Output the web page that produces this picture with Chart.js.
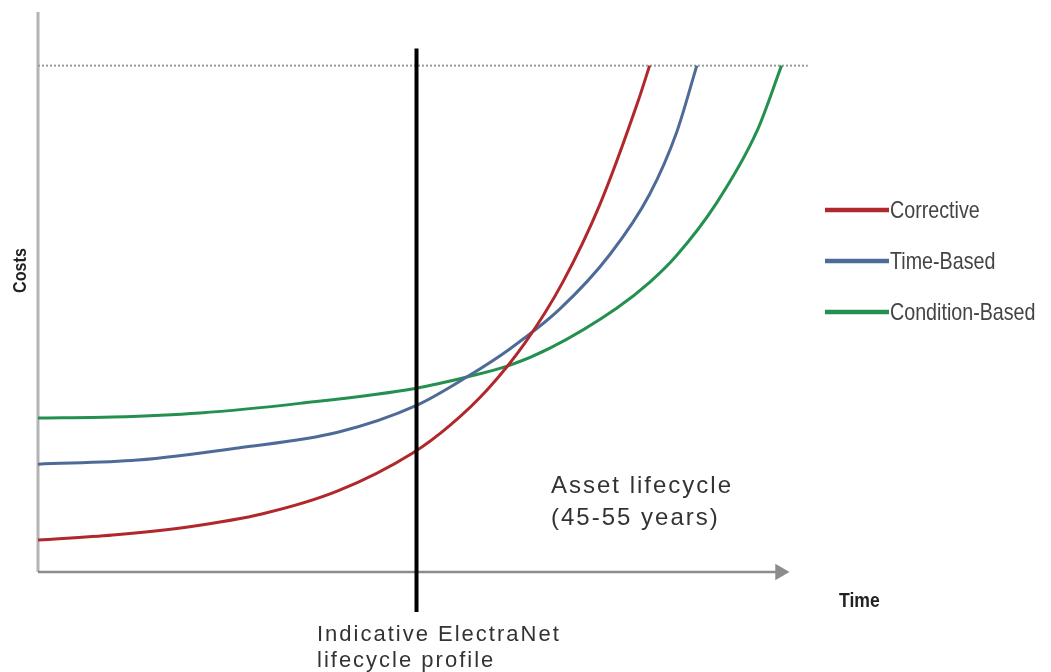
<!DOCTYPE html>
<html lang="en">
<head>
    <meta charset="UTF-8">
    <title>Maintenance Cost Profiles</title>
    <script src="https://cdn.jsdelivr.net/npm/chart.js"></script>
    <style>
        body { margin: 0; background: #fff; }
    </style>
</head>
<body>
    <canvas id="costChart" width="1051" height="672"></canvas>
    <script>
        // curve values (x: time, y: cost, arbitrary units)
        const seriesNames = ['Corrective', 'Time-Based', 'Condition-Based'];
        const seriesColors = ['#b0282c', '#4d6b96', '#24904f'];

        const correctiveX = [0, 10, 20, 30, 40, 50, 55, 60, 65, 70, 75, 80, 81.6];
        const correctiveY = [6.3, 7.3, 8.9, 11.5, 16.0, 23.5, 29.0, 36.1, 45.3, 57.2, 72.7, 92.7, 100];

        const timeBasedX = [0, 13.3, 26.7, 40, 50.5, 57.2, 62.9, 69.6, 76.3, 81.6, 85.2, 87.9];
        const timeBasedY = [21.3, 22.1, 24.5, 27.6, 32.9, 38.5, 44.0, 51.9, 62.7, 74.6, 86.8, 100];

        const conditionX = [0, 10, 21.6, 34.9, 50.5, 57.2, 62.9, 68.3, 77.2, 81.6, 85.2, 90.5, 95.9, 99.2];
        const conditionY = [30.4, 30.6, 31.4, 33.3, 36.3, 38.5, 40.8, 44.2, 52.1, 57.2, 62.5, 72.8, 87.0, 100];

        const electraNetTime = 50.5;   // indicative ElectraNet lifecycle marker
        const costCeiling = 100;       // dotted cap line

        const toPoints = (xs, ys) => xs.map((x, i) => ({ x: x, y: ys[i] }));

        function curve(label, xs, ys, color) {
            return {
                label: label,
                data: toPoints(xs, ys),
                borderColor: color,
                borderWidth: 3,
                pointRadius: 0,
                cubicInterpolationMode: 'monotone',
                fill: false,
                isSeries: true
            };
        }

        const datasets = [
            {
                label: 'marker',
                data: [{ x: electraNetTime, y: 103.4 }, { x: electraNetTime, y: -7.9 }],
                borderColor: '#000',
                borderWidth: 4,
                pointRadius: 0,
                clip: false
            },
            curve(seriesNames[0], correctiveX, correctiveY, seriesColors[0]),
            curve(seriesNames[1], timeBasedX, timeBasedY, seriesColors[1]),
            curve(seriesNames[2], conditionX, conditionY, seriesColors[2]),
            {
                label: 'ceiling',
                data: [{ x: 0, y: costCeiling }, { x: 102.7, y: costCeiling }],
                borderColor: '#9a9a9a',
                borderWidth: 2,
                borderDash: [2, 2],
                pointRadius: 0,
                clip: false
            },
            {
                label: 'x axis',
                data: [{ x: 0, y: 0 }, { x: 99, y: 0 }],
                borderColor: '#8c8c8c',
                borderWidth: 2.5,
                pointRadius: [0, 7],
                pointStyle: 'triangle',
                rotation: 90,
                pointBackgroundColor: '#8c8c8c',
                pointBorderColor: '#8c8c8c',
                clip: false
            },
            {
                label: 'y axis',
                data: [{ x: 0, y: 0 }, { x: 0, y: 110.6 }],
                borderColor: '#b4b4b4',
                borderWidth: 3,
                pointRadius: 0,
                clip: false
            }
        ];

        // narrow text: squeeze a normal font horizontally
        function narrowText(ctx, text, x, y, squeeze) {
            ctx.save();
            ctx.translate(x, y);
            ctx.scale(squeeze, 1);
            ctx.fillText(text, 0, 0);
            ctx.restore();
        }

        const annotations = {
            id: 'annotations',
            afterDraw(chart) {
                const ctx = chart.ctx;
                ctx.save();
                ctx.textBaseline = 'alphabetic';

                // legend on the right
                const series = chart.data.datasets.filter(d => d.isSeries);
                series.forEach((d, i) => {
                    const y = 210 + i * 51;
                    ctx.strokeStyle = d.borderColor;
                    ctx.lineWidth = 4.5;
                    ctx.beginPath();
                    ctx.moveTo(825, y);
                    ctx.lineTo(889, y);
                    ctx.stroke();
                    ctx.fillStyle = '#444';
                    ctx.font = '24px "Liberation Sans", Arial, sans-serif';
                    narrowText(ctx, d.label, 890, y + 8, 0.82);
                });

                // axis titles
                ctx.fillStyle = '#222';
                ctx.font = 'bold 20px "Liberation Sans", Arial, sans-serif';
                narrowText(ctx, 'Time', 839, 607, 0.88);
                ctx.save();
                ctx.translate(26, 293);
                ctx.rotate(-Math.PI / 2);
                ctx.font = 'bold 19px "Liberation Sans", Arial, sans-serif';
                narrowText(ctx, 'Costs', 0, 0, 0.85);
                ctx.restore();

                // notes
                ctx.fillStyle = '#333';
                ctx.letterSpacing = '2px';
                ctx.font = '24px "Liberation Sans", Arial, sans-serif';
                ctx.fillText('Asset lifecycle', 551, 493);
                ctx.fillText('(45-55 years)', 551, 525);
                ctx.font = '22px "Liberation Sans", Arial, sans-serif';
                ctx.fillText('Indicative ElectraNet', 317, 641);
                ctx.fillText('lifecycle profile', 317, 667);
                ctx.restore();
            }
        };

        new Chart(document.getElementById('costChart').getContext('2d'), {
            type: 'line',
            data: { datasets: datasets },
            options: {
                responsive: false,
                animation: false,
                layout: { padding: { left: 38, top: 15, right: 226, bottom: 100 } },
                plugins: { legend: { display: false }, tooltip: { enabled: false } },
                scales: {
                    x: { type: 'linear', min: 0, max: 105, display: false },
                    y: { min: 0, max: 110, display: false }
                }
            },
            plugins: [annotations]
        });
    </script>
</body>
</html>
